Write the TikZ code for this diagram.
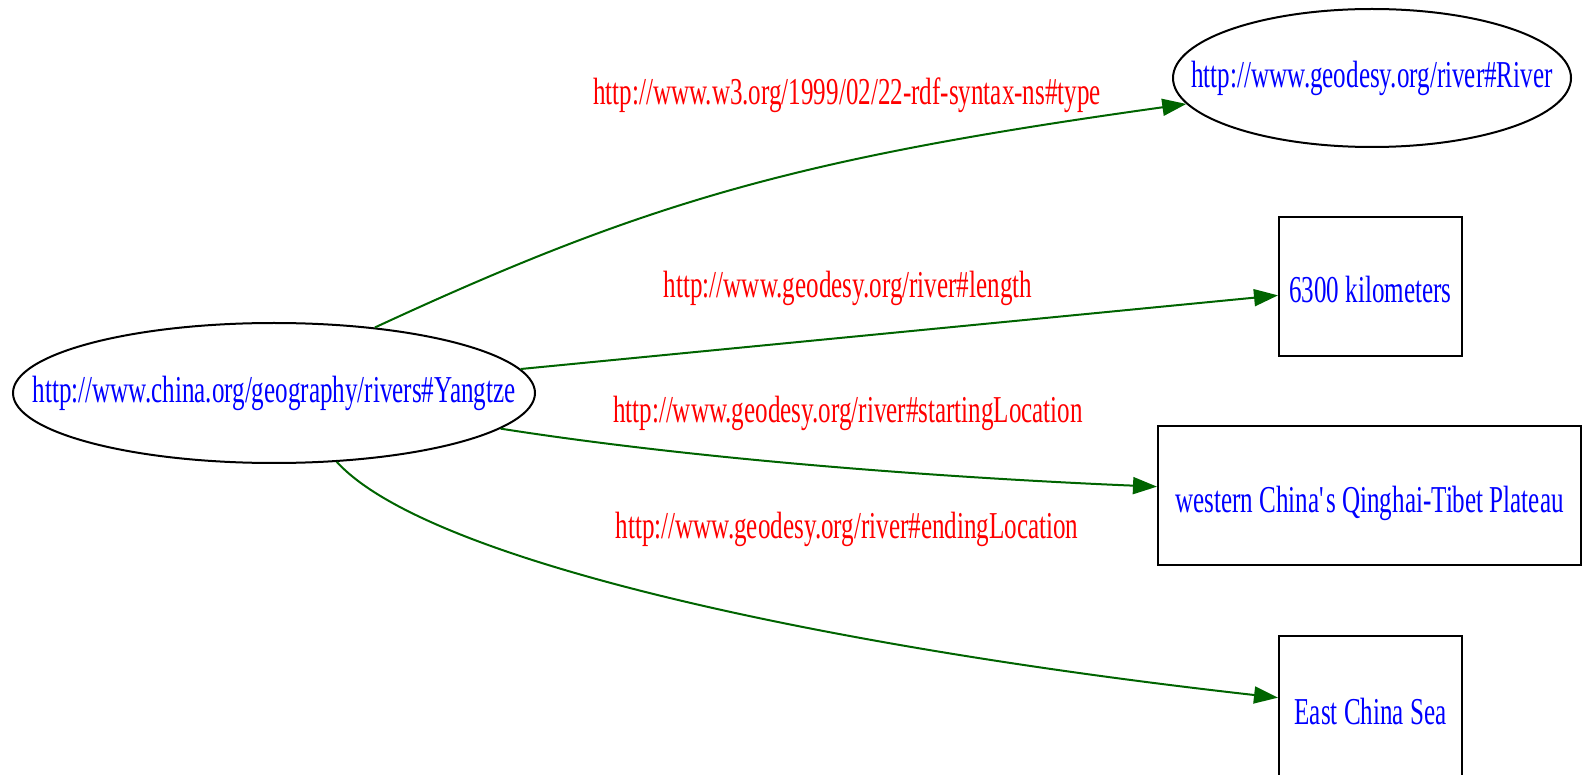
\documentclass[tikz,border=0pt]{standalone}
\usepackage{fontspec}
\setmainfont{Liberation Serif}[FakeStretch=0.66]
\usetikzlibrary{shapes.geometric,arrows.meta}
\definecolor{linkgreen}{RGB}{0,100,0}

\begin{document}
\begin{tikzpicture}[
	x=1pt, y=-1pt,
	font=\fontsize{38}{40}\selectfont,
	resource/.style={ellipse, draw=black, line width=2pt, inner sep=0pt, minimum height=140pt, text=blue},
	literal/.style={rectangle, draw=black, line width=2pt, inner sep=0pt, minimum height=139pt, text=blue, text height=40pt, text depth=7pt},
	predicate/.style={inner sep=0pt, text=red},
	link/.style={draw=linkgreen, line width=2pt, -{Triangle[length=24pt, width=17pt]}},
	]
	\useasboundingbox (0,0) rectangle (1583,775);

	\node [resource, minimum width=522pt] (yangtze) at (274,393) {\makebox[0pt]{http://www.china.org/geography/rivers\#Yangtze}};
	\node [resource, minimum width=398pt, minimum height=138pt] (river) at (1372,78) {\makebox[0pt]{http://www.geodesy.org/river\#River}};
	\node [literal, minimum width=183pt] (km) at (1370.5,286.5) {6300 kilometers};
	\node [literal, minimum width=423pt] (plateau) at (1369.5,495.5) {western China\textquotesingle s Qinghai-Tibet Plateau};
	\node [literal, minimum width=183pt, minimum height=144pt] (sea) at (1370.5,708) {East China Sea};

	\node [predicate] (type) at (847,95) {http://www.w3.org/1999/02/22-rdf-syntax-ns\#type};
	\node [predicate] (length) at (848,288) {http://www.geodesy.org/river\#length};
	\node [predicate] (start) at (848,413) {http://www.geodesy.org/river\#startingLocation};
	\node [predicate] (end) at (847,529) {http://www.geodesy.org/river\#endingLocation};

	\draw [link] (yangtze.33.3) .. controls (650,200) and (800,158) .. (river);
	\draw [link] (yangtze) -- (km);
	\draw [link] (yangtze) .. controls (700,460) and (950,478) .. (plateau);
	\draw [link] (yangtze) .. controls (429,563) and (835,648) .. (sea);
\end{tikzpicture}
\end{document}
